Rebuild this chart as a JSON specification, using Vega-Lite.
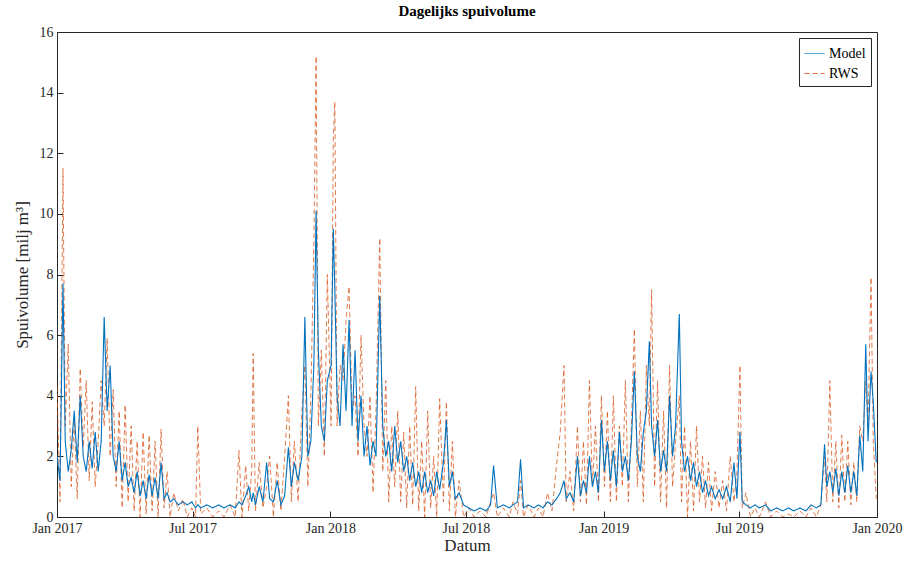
{
"$schema":"https://vega.github.io/schema/vega-lite/v6.json",
"width":820,"height":485,
"autosize":"none",
"padding":{"left":57,"top":32,"right":35,"bottom":48},
"background":"white",
"config":{"font":"Liberation Serif","view":{"stroke":"#262626","strokeWidth":1},
"axis":{"labelFont":"Liberation Serif","titleFont":"Liberation Serif","labelFontSize":14,"titleFontSize":17,"titleFontWeight":"normal","labelColor":"#262626","titleColor":"#262626","domainColor":"#262626","tickColor":"#262626","tickSize":-6,"grid":false}},
"title":{"text":"Dagelijks spuivolume","font":"Liberation Serif","fontSize":15,"fontWeight":"bold","color":"black","offset":6},
"data":{"values":[
{"d":"2017-01-01","Model":2.0,"RWS":4.3},{"d":"2017-01-05","Model":1.2,"RWS":0.5},{"d":"2017-01-09","Model":7.7,"RWS":11.5},{"d":"2017-01-12","Model":2.5,"RWS":3.0},{"d":"2017-01-16","Model":1.5,"RWS":5.7},{"d":"2017-01-20","Model":2.2,"RWS":1.0},{"d":"2017-01-24","Model":3.5,"RWS":3.2},{"d":"2017-01-28","Model":1.8,"RWS":0.6},{"d":"2017-02-01","Model":4.0,"RWS":4.9},{"d":"2017-02-05","Model":2.0,"RWS":2.3},{"d":"2017-02-09","Model":1.5,"RWS":4.5},{"d":"2017-02-13","Model":2.5,"RWS":1.2},{"d":"2017-02-17","Model":1.6,"RWS":3.8},{"d":"2017-02-21","Model":2.8,"RWS":1.0},{"d":"2017-02-25","Model":1.5,"RWS":2.5},{"d":"2017-03-01","Model":2.5,"RWS":4.5},{"d":"2017-03-05","Model":6.6,"RWS":3.0},{"d":"2017-03-09","Model":3.5,"RWS":5.9},{"d":"2017-03-13","Model":5.0,"RWS":2.0},{"d":"2017-03-17","Model":2.0,"RWS":4.2},{"d":"2017-03-21","Model":1.5,"RWS":1.0},{"d":"2017-03-25","Model":2.5,"RWS":3.5},{"d":"2017-03-29","Model":1.2,"RWS":0.3},{"d":"2017-04-02","Model":1.8,"RWS":3.7},{"d":"2017-04-06","Model":1.0,"RWS":0.5},{"d":"2017-04-10","Model":1.3,"RWS":3.0},{"d":"2017-04-14","Model":0.8,"RWS":0.2},{"d":"2017-04-18","Model":1.5,"RWS":2.5},{"d":"2017-04-22","Model":0.7,"RWS":0.0},{"d":"2017-04-26","Model":1.2,"RWS":2.8},{"d":"2017-04-30","Model":0.6,"RWS":0.1},{"d":"2017-05-04","Model":1.4,"RWS":2.7},{"d":"2017-05-08","Model":0.7,"RWS":0.2},{"d":"2017-05-12","Model":1.3,"RWS":2.5},{"d":"2017-05-16","Model":0.6,"RWS":0.0},{"d":"2017-05-20","Model":1.8,"RWS":2.9},{"d":"2017-05-24","Model":0.6,"RWS":0.3},{"d":"2017-05-28","Model":0.8,"RWS":1.5},{"d":"2017-06-01","Model":0.5,"RWS":0.0},{"d":"2017-06-06","Model":0.6,"RWS":0.8},{"d":"2017-06-12","Model":0.4,"RWS":0.2},{"d":"2017-06-18","Model":0.5,"RWS":0.6},{"d":"2017-06-24","Model":0.4,"RWS":0.0},{"d":"2017-06-30","Model":0.5,"RWS":0.3},{"d":"2017-07-05","Model":0.3,"RWS":0.0},{"d":"2017-07-08","Model":0.4,"RWS":3.0},{"d":"2017-07-12","Model":0.3,"RWS":0.1},{"d":"2017-07-20","Model":0.4,"RWS":0.3},{"d":"2017-07-28","Model":0.3,"RWS":0.0},{"d":"2017-08-05","Model":0.4,"RWS":0.2},{"d":"2017-08-12","Model":0.3,"RWS":0.0},{"d":"2017-08-20","Model":0.4,"RWS":0.4},{"d":"2017-08-27","Model":0.3,"RWS":0.0},{"d":"2017-09-01","Model":0.5,"RWS":2.2},{"d":"2017-09-05","Model":0.4,"RWS":0.0},{"d":"2017-09-10","Model":0.7,"RWS":1.7},{"d":"2017-09-14","Model":1.0,"RWS":0.2},{"d":"2017-09-18","Model":0.5,"RWS":1.5},{"d":"2017-09-20","Model":0.8,"RWS":5.4},{"d":"2017-09-23","Model":0.4,"RWS":0.2},{"d":"2017-09-28","Model":1.0,"RWS":1.8},{"d":"2017-10-03","Model":0.5,"RWS":0.3},{"d":"2017-10-08","Model":1.8,"RWS":1.0},{"d":"2017-10-12","Model":0.6,"RWS":2.0},{"d":"2017-10-17","Model":0.5,"RWS":0.0},{"d":"2017-10-22","Model":1.2,"RWS":1.8},{"d":"2017-10-27","Model":0.4,"RWS":0.2},{"d":"2017-11-01","Model":0.7,"RWS":2.0},{"d":"2017-11-06","Model":2.3,"RWS":4.0},{"d":"2017-11-10","Model":1.0,"RWS":0.5},{"d":"2017-11-14","Model":1.8,"RWS":2.5},{"d":"2017-11-19","Model":1.2,"RWS":0.5},{"d":"2017-11-24","Model":2.0,"RWS":3.5},{"d":"2017-11-28","Model":6.6,"RWS":5.0},{"d":"2017-12-02","Model":2.0,"RWS":1.0},{"d":"2017-12-06","Model":2.5,"RWS":4.0},{"d":"2017-12-10","Model":5.0,"RWS":9.0},{"d":"2017-12-13","Model":10.1,"RWS":15.2},{"d":"2017-12-16","Model":5.5,"RWS":3.0},{"d":"2017-12-20","Model":3.0,"RWS":5.5},{"d":"2017-12-24","Model":2.5,"RWS":2.0},{"d":"2017-12-28","Model":4.5,"RWS":8.0},
{"d":"2018-01-02","Model":5.0,"RWS":3.0},{"d":"2018-01-05","Model":9.5,"RWS":12.5},{"d":"2018-01-07","Model":7.5,"RWS":13.7},{"d":"2018-01-10","Model":4.0,"RWS":3.0},{"d":"2018-01-14","Model":3.0,"RWS":5.0},{"d":"2018-01-18","Model":5.7,"RWS":4.5},{"d":"2018-01-22","Model":3.5,"RWS":6.5},{"d":"2018-01-26","Model":6.5,"RWS":7.6},{"d":"2018-01-30","Model":3.0,"RWS":3.5},{"d":"2018-02-03","Model":5.5,"RWS":4.0},{"d":"2018-02-07","Model":2.5,"RWS":2.0},{"d":"2018-02-11","Model":4.0,"RWS":6.0},{"d":"2018-02-15","Model":2.0,"RWS":3.0},{"d":"2018-02-19","Model":3.0,"RWS":2.0},{"d":"2018-02-23","Model":1.7,"RWS":4.0},{"d":"2018-02-27","Model":2.5,"RWS":0.8},{"d":"2018-03-03","Model":2.0,"RWS":3.5},{"d":"2018-03-08","Model":7.3,"RWS":9.2},{"d":"2018-03-12","Model":3.0,"RWS":1.5},{"d":"2018-03-16","Model":2.0,"RWS":4.5},{"d":"2018-03-20","Model":2.5,"RWS":0.5},{"d":"2018-03-24","Model":1.5,"RWS":3.0},{"d":"2018-03-28","Model":3.0,"RWS":1.0},{"d":"2018-04-01","Model":1.8,"RWS":3.5},{"d":"2018-04-05","Model":2.5,"RWS":0.5},{"d":"2018-04-09","Model":1.5,"RWS":2.8},{"d":"2018-04-13","Model":2.0,"RWS":0.3},{"d":"2018-04-17","Model":1.2,"RWS":3.0},{"d":"2018-04-21","Model":1.8,"RWS":0.4},{"d":"2018-04-25","Model":1.0,"RWS":4.3},{"d":"2018-04-29","Model":1.5,"RWS":0.2},{"d":"2018-05-03","Model":0.8,"RWS":2.5},{"d":"2018-05-07","Model":1.5,"RWS":0.0},{"d":"2018-05-11","Model":0.8,"RWS":3.5},{"d":"2018-05-15","Model":1.2,"RWS":0.3},{"d":"2018-05-19","Model":0.7,"RWS":2.0},{"d":"2018-05-23","Model":1.5,"RWS":0.0},{"d":"2018-05-27","Model":0.9,"RWS":3.9},{"d":"2018-06-01","Model":1.8,"RWS":0.5},{"d":"2018-06-05","Model":3.2,"RWS":3.8},{"d":"2018-06-09","Model":1.0,"RWS":0.2},{"d":"2018-06-13","Model":1.5,"RWS":2.5},{"d":"2018-06-17","Model":0.6,"RWS":0.0},{"d":"2018-06-22","Model":0.8,"RWS":1.2},{"d":"2018-06-28","Model":0.4,"RWS":0.0},{"d":"2018-07-05","Model":0.3,"RWS":0.3},{"d":"2018-07-12","Model":0.2,"RWS":0.0},{"d":"2018-07-20","Model":0.3,"RWS":0.2},{"d":"2018-07-28","Model":0.2,"RWS":0.0},{"d":"2018-08-03","Model":0.4,"RWS":0.5},{"d":"2018-08-07","Model":1.7,"RWS":0.8},{"d":"2018-08-12","Model":0.3,"RWS":0.0},{"d":"2018-08-20","Model":0.4,"RWS":0.3},{"d":"2018-08-28","Model":0.3,"RWS":0.0},{"d":"2018-09-02","Model":0.4,"RWS":0.5},{"d":"2018-09-08","Model":0.5,"RWS":0.1},{"d":"2018-09-12","Model":1.9,"RWS":1.2},{"d":"2018-09-16","Model":0.3,"RWS":0.0},{"d":"2018-09-22","Model":0.4,"RWS":0.4},{"d":"2018-09-30","Model":0.3,"RWS":0.0},{"d":"2018-10-06","Model":0.4,"RWS":0.3},{"d":"2018-10-12","Model":0.3,"RWS":0.0},{"d":"2018-10-18","Model":0.5,"RWS":0.8},{"d":"2018-10-24","Model":0.4,"RWS":0.2},{"d":"2018-10-30","Model":0.6,"RWS":1.7},{"d":"2018-11-04","Model":0.8,"RWS":2.8},{"d":"2018-11-09","Model":1.2,"RWS":5.0},{"d":"2018-11-12","Model":0.6,"RWS":0.5},{"d":"2018-11-17","Model":0.8,"RWS":1.5},{"d":"2018-11-22","Model":0.5,"RWS":0.2},{"d":"2018-11-27","Model":2.0,"RWS":3.0},{"d":"2018-12-01","Model":0.7,"RWS":0.5},{"d":"2018-12-05","Model":1.2,"RWS":2.5},{"d":"2018-12-09","Model":0.8,"RWS":0.4},{"d":"2018-12-13","Model":2.0,"RWS":4.5},{"d":"2018-12-17","Model":1.0,"RWS":1.0},{"d":"2018-12-21","Model":1.5,"RWS":3.0},{"d":"2018-12-25","Model":0.8,"RWS":0.5},{"d":"2018-12-29","Model":3.2,"RWS":4.0},
{"d":"2019-01-02","Model":1.5,"RWS":1.0},{"d":"2019-01-06","Model":2.5,"RWS":3.5},{"d":"2019-01-10","Model":1.2,"RWS":0.5},{"d":"2019-01-14","Model":2.2,"RWS":4.0},{"d":"2019-01-18","Model":1.0,"RWS":0.5},{"d":"2019-01-22","Model":2.8,"RWS":3.0},{"d":"2019-01-26","Model":1.5,"RWS":1.0},{"d":"2019-01-30","Model":2.0,"RWS":4.5},{"d":"2019-02-03","Model":1.2,"RWS":0.5},{"d":"2019-02-07","Model":2.5,"RWS":3.0},{"d":"2019-02-11","Model":4.8,"RWS":6.2},{"d":"2019-02-15","Model":2.0,"RWS":1.0},{"d":"2019-02-19","Model":1.5,"RWS":3.5},{"d":"2019-02-23","Model":2.8,"RWS":0.5},{"d":"2019-02-27","Model":3.5,"RWS":5.0},{"d":"2019-03-03","Model":5.8,"RWS":3.0},{"d":"2019-03-06","Model":3.0,"RWS":7.5},{"d":"2019-03-10","Model":2.0,"RWS":1.0},{"d":"2019-03-14","Model":3.2,"RWS":4.5},{"d":"2019-03-18","Model":1.5,"RWS":0.5},{"d":"2019-03-22","Model":2.2,"RWS":3.5},{"d":"2019-03-26","Model":1.5,"RWS":0.3},{"d":"2019-03-30","Model":4.0,"RWS":5.0},{"d":"2019-04-03","Model":2.0,"RWS":1.0},{"d":"2019-04-07","Model":3.0,"RWS":2.5},{"d":"2019-04-12","Model":6.7,"RWS":4.0},{"d":"2019-04-15","Model":2.5,"RWS":0.5},{"d":"2019-04-19","Model":1.5,"RWS":3.0},{"d":"2019-04-23","Model":2.0,"RWS":0.0},{"d":"2019-04-27","Model":1.2,"RWS":2.5},{"d":"2019-05-01","Model":1.8,"RWS":0.2},{"d":"2019-05-05","Model":1.0,"RWS":3.0},{"d":"2019-05-09","Model":1.5,"RWS":0.5},{"d":"2019-05-13","Model":0.8,"RWS":2.0},{"d":"2019-05-17","Model":1.2,"RWS":0.3},{"d":"2019-05-21","Model":0.7,"RWS":1.8},{"d":"2019-05-25","Model":1.0,"RWS":0.2},{"d":"2019-05-30","Model":0.6,"RWS":1.5},{"d":"2019-06-04","Model":0.9,"RWS":0.3},{"d":"2019-06-09","Model":0.6,"RWS":1.2},{"d":"2019-06-14","Model":1.0,"RWS":0.2},{"d":"2019-06-19","Model":0.5,"RWS":2.0},{"d":"2019-06-24","Model":1.8,"RWS":0.5},{"d":"2019-06-28","Model":0.6,"RWS":1.5},{"d":"2019-07-02","Model":2.8,"RWS":5.0},{"d":"2019-07-05","Model":0.5,"RWS":0.3},{"d":"2019-07-10","Model":0.4,"RWS":0.8},{"d":"2019-07-16","Model":0.3,"RWS":0.0},{"d":"2019-07-22","Model":0.4,"RWS":0.3},{"d":"2019-07-28","Model":0.3,"RWS":0.0},{"d":"2019-08-05","Model":0.4,"RWS":0.5},{"d":"2019-08-12","Model":0.2,"RWS":0.0},{"d":"2019-08-20","Model":0.3,"RWS":0.2},{"d":"2019-08-28","Model":0.2,"RWS":0.0},{"d":"2019-09-05","Model":0.3,"RWS":0.1},{"d":"2019-09-12","Model":0.2,"RWS":0.0},{"d":"2019-09-20","Model":0.3,"RWS":0.2},{"d":"2019-09-28","Model":0.2,"RWS":0.0},{"d":"2019-10-05","Model":0.4,"RWS":0.3},{"d":"2019-10-12","Model":0.3,"RWS":0.0},{"d":"2019-10-18","Model":0.4,"RWS":0.4},{"d":"2019-10-23","Model":2.4,"RWS":2.0},{"d":"2019-10-26","Model":1.0,"RWS":0.5},{"d":"2019-10-30","Model":1.5,"RWS":4.5},{"d":"2019-11-03","Model":0.8,"RWS":0.5},{"d":"2019-11-07","Model":1.6,"RWS":2.5},{"d":"2019-11-11","Model":0.7,"RWS":0.3},{"d":"2019-11-15","Model":1.5,"RWS":2.7},{"d":"2019-11-19","Model":0.8,"RWS":0.5},{"d":"2019-11-23","Model":1.7,"RWS":2.5},{"d":"2019-11-27","Model":0.8,"RWS":0.4},{"d":"2019-12-01","Model":1.5,"RWS":1.8},{"d":"2019-12-05","Model":0.7,"RWS":0.5},{"d":"2019-12-09","Model":2.7,"RWS":3.0},{"d":"2019-12-13","Model":1.5,"RWS":2.5},{"d":"2019-12-17","Model":5.7,"RWS":4.5},{"d":"2019-12-20","Model":2.5,"RWS":3.0},{"d":"2019-12-24","Model":4.8,"RWS":7.9},{"d":"2019-12-27","Model":3.8,"RWS":2.5},{"d":"2019-12-31","Model":1.8,"RWS":0.6}
]},
"transform":[{"fold":["Model","RWS"],"as":["serie","v"]}],
"encoding":{
"x":{"field":"d","type":"temporal","title":"Datum",
"scale":{"domain":["2017-01-01T00:00:00","2020-01-01T00:00:00"]},
"axis":{"values":["2017-01-01T00:00:00","2017-07-01T00:00:00","2018-01-01T00:00:00","2018-07-01T00:00:00","2019-01-01T00:00:00","2019-07-01T00:00:00","2020-01-01T00:00:00"],"labelExpr":"timeFormat(datum.value,'%b %Y')","labelAlign":"center","labelPadding":10,"titlePadding":2}},
"y":{"field":"v","type":"quantitative","title":"Spuivolume [milj m³]","scale":{"domain":[0,16],"nice":false},"axis":{"values":[0,2,4,6,8,10,12,14,16],"labelPadding":10,"titlePadding":8}},
"color":{"field":"serie","type":"nominal","title":null,"scale":{"domain":["Model","RWS"],"range":["#0072BD","#D95319"]},
"legend":{"orient":"top-right","offset":6,"fillColor":"white","strokeColor":"#262626","padding":5,"labelFont":"Liberation Serif","labelFontSize":14,"symbolType":"stroke","symbolSize":400,"symbolStrokeWidth":1,"rowPadding":2}},
"strokeDash":{"field":"serie","type":"nominal","scale":{"domain":["Model","RWS"],"range":[[1,0],[5,3]]},"legend":null}
},
"layer":[
{"transform":[{"filter":"datum.serie==='RWS'"}],"mark":{"type":"line","strokeWidth":0.9,"opacity":0.85,"clip":true}},
{"transform":[{"filter":"datum.serie==='Model'"}],"mark":{"type":"line","strokeWidth":1.1,"clip":true}}
]
}
